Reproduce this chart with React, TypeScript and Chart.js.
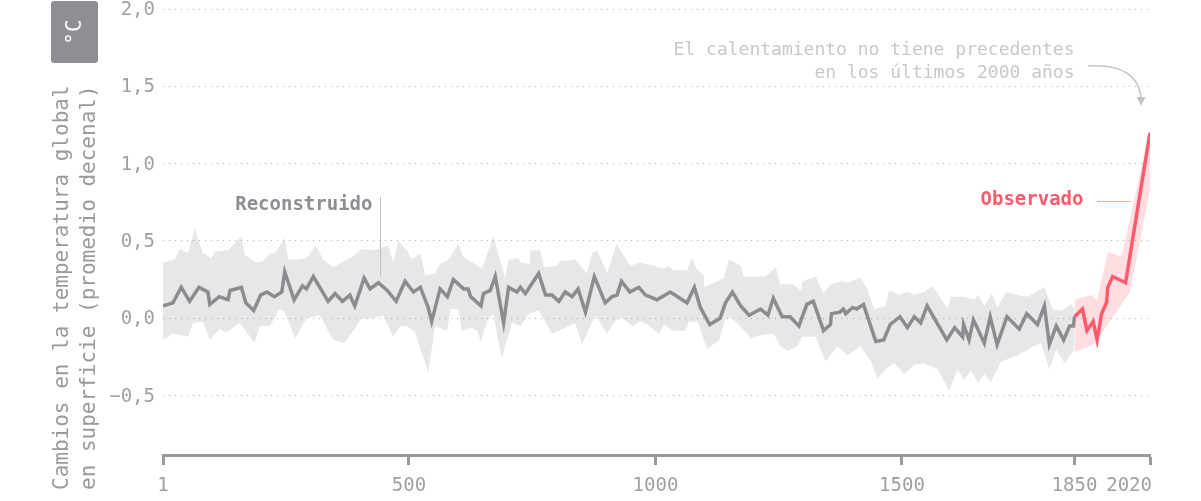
import React, { useEffect, useRef } from 'react';
import { Chart, registerables, LinearScale } from 'chart.js';

Chart.register(...registerables);

// ---------- data ----------
const xTickValues = [1, 500, 1000, 1500, 1850, 2020];
const yTickValues = [-0.5, 0, 0.5, 1, 1.5, 2];

const recYears = [1, 21, 38, 55, 74, 92, 96, 115, 133, 137, 160, 169, 185, 199, 212, 227, 242, 248, 267, 284, 292, 306, 336, 350, 365, 380, 390, 409, 421, 438, 456, 474, 492, 509, 523, 539, 546, 563, 578, 590, 611, 620, 625, 646, 651, 665, 675, 692, 702, 719, 726, 736, 763, 777, 790, 804, 817, 831, 843, 858, 876, 898, 912, 922, 931, 948, 966, 980, 1003, 1030, 1064, 1079, 1091, 1110, 1131, 1142, 1156, 1173, 1190, 1213, 1228, 1239, 1257, 1273, 1291, 1307, 1320, 1341, 1355, 1357, 1374, 1381, 1386, 1400, 1408, 1422, 1447, 1463, 1476, 1496, 1511, 1525, 1538, 1551, 1591, 1607, 1623, 1625, 1636, 1645, 1667, 1679, 1693, 1713, 1738, 1753, 1775, 1789, 1799, 1813, 1828, 1840, 1848, 1850];
const recValues = [0.08, 0.10, 0.20, 0.11, 0.20, 0.17, 0.09, 0.14, 0.12, 0.18, 0.20, 0.10, 0.05, 0.15, 0.17, 0.14, 0.17, 0.30, 0.12, 0.21, 0.19, 0.27, 0.11, 0.16, 0.11, 0.15, 0.08, 0.26, 0.19, 0.23, 0.18, 0.11, 0.24, 0.17, 0.20, 0.07, -0.02, 0.19, 0.14, 0.25, 0.19, 0.19, 0.14, 0.08, 0.16, 0.18, 0.27, -0.03, 0.20, 0.17, 0.20, 0.16, 0.29, 0.15, 0.15, 0.11, 0.17, 0.14, 0.19, 0.04, 0.27, 0.10, 0.14, 0.15, 0.24, 0.17, 0.20, 0.15, 0.12, 0.17, 0.10, 0.20, 0.07, -0.04, 0.00, 0.10, 0.17, 0.08, 0.02, 0.06, 0.02, 0.13, 0.01, 0.01, -0.05, 0.09, 0.11, -0.08, -0.04, 0.03, 0.04, 0.06, 0.03, 0.07, 0.06, 0.09, -0.15, -0.14, -0.04, 0.01, -0.06, 0.01, -0.03, 0.08, -0.14, -0.06, -0.12, -0.04, -0.14, -0.01, -0.16, 0.01, -0.17, 0.01, -0.07, 0.03, -0.04, 0.08, -0.17, -0.05, -0.14, -0.05, -0.05, 0.01];

const recUpperYears = [1, 25, 35, 52, 65, 82, 99, 106, 133, 160, 167, 191, 204, 218, 228, 248, 255, 275, 292, 311, 326, 346, 363, 387, 404, 428, 458, 468, 478, 496, 506, 523, 533, 553, 562, 580, 600, 610, 648, 671, 695, 702, 722, 726, 745, 746, 766, 774, 800, 810, 817, 837, 861, 871, 882, 902, 921, 949, 969, 997, 1017, 1027, 1037, 1064, 1074, 1085, 1098, 1099, 1139, 1149, 1173, 1179, 1213, 1223, 1244, 1253, 1278, 1295, 1298, 1325, 1341, 1355, 1379, 1389, 1416, 1430, 1443, 1467, 1474, 1494, 1511, 1525, 1545, 1562, 1593, 1599, 1626, 1647, 1654, 1667, 1682, 1694, 1711, 1735, 1755, 1789, 1806, 1823, 1843, 1850];
const recUpperValues = [0.36, 0.38, 0.45, 0.42, 0.58, 0.42, 0.39, 0.43, 0.44, 0.53, 0.41, 0.36, 0.37, 0.42, 0.42, 0.52, 0.38, 0.38, 0.39, 0.47, 0.38, 0.33, 0.36, 0.40, 0.45, 0.44, 0.47, 0.36, 0.50, 0.44, 0.38, 0.42, 0.28, 0.29, 0.35, 0.38, 0.48, 0.40, 0.32, 0.53, 0.26, 0.38, 0.39, 0.36, 0.35, 0.44, 0.44, 0.33, 0.34, 0.38, 0.37, 0.38, 0.29, 0.42, 0.44, 0.29, 0.48, 0.34, 0.36, 0.34, 0.32, 0.34, 0.31, 0.31, 0.39, 0.31, 0.28, 0.20, 0.26, 0.38, 0.34, 0.27, 0.27, 0.27, 0.33, 0.22, 0.22, 0.18, 0.24, 0.27, 0.16, 0.22, 0.24, 0.23, 0.26, 0.19, 0.06, 0.08, 0.18, 0.15, 0.17, 0.15, 0.17, 0.21, 0.06, 0.14, 0.14, 0.12, 0.15, 0.08, 0.16, 0.07, 0.17, 0.15, 0.14, 0.20, 0.06, 0.05, 0.09, 0.06];

const recLowerYears = [1, 21, 52, 62, 82, 96, 115, 130, 157, 187, 197, 218, 237, 248, 269, 292, 319, 346, 370, 404, 428, 448, 468, 482, 496, 512, 539, 553, 577, 585, 600, 607, 628, 638, 646, 658, 671, 688, 709, 726, 743, 763, 790, 804, 837, 851, 878, 902, 915, 929, 953, 969, 983, 1007, 1017, 1037, 1061, 1068, 1085, 1105, 1129, 1142, 1156, 1186, 1193, 1213, 1240, 1254, 1268, 1288, 1298, 1325, 1345, 1369, 1389, 1416, 1437, 1450, 1467, 1484, 1504, 1525, 1545, 1572, 1596, 1613, 1626, 1640, 1654, 1667, 1681, 1701, 1735, 1762, 1782, 1799, 1813, 1830, 1850];
const recLowerValues = [-0.14, -0.10, -0.12, -0.03, -0.02, -0.14, -0.07, -0.09, -0.03, -0.16, -0.05, -0.05, 0.06, 0.04, -0.13, 0.00, 0.02, -0.14, -0.16, 0.00, 0.00, 0.02, -0.12, -0.05, -0.05, -0.09, -0.35, -0.05, -0.08, 0.06, 0.06, -0.08, -0.06, -0.08, -0.15, -0.02, 0.03, -0.26, -0.03, -0.05, 0.03, 0.05, -0.10, -0.08, -0.03, -0.17, 0.02, -0.10, -0.03, 0.01, -0.05, -0.02, -0.04, -0.10, -0.04, -0.08, -0.08, -0.02, -0.02, -0.20, -0.14, 0.00, 0.00, -0.10, -0.13, -0.11, -0.10, -0.18, -0.21, -0.18, -0.12, -0.12, -0.28, -0.18, -0.24, -0.18, -0.28, -0.39, -0.33, -0.29, -0.36, -0.30, -0.29, -0.33, -0.47, -0.33, -0.40, -0.34, -0.42, -0.36, -0.41, -0.28, -0.24, -0.19, -0.16, -0.33, -0.20, -0.29, -0.20];

const obsYears = [1850, 1868, 1878, 1892, 1901, 1911, 1922, 1925, 1936, 1965, 2020];
const obsValues = [0.01, 0.06, -0.08, -0.02, -0.14, 0.03, 0.10, 0.20, 0.27, 0.23, 1.20];
const obsUpperYears = [1850, 1888, 1901, 1925, 1956, 2020];
const obsUpperValues = [0.12, 0.15, 0.12, 0.43, 0.40, 1.22];
const obsLowerYears = [1850, 1885, 1898, 1922, 1975, 2020];
const obsLowerValues = [-0.22, -0.18, -0.16, -0.05, 0.17, 0.83];

// ---------- style ----------
const FONT = "'DejaVu Sans Mono', monospace";
const AXIS_COLOR = '#9a9a9a';
const TICK_COLOR = '#a0a0a0';
const GRAY_LINE = '#8f8f94';
const GRAY_BAND = 'rgba(120,120,125,0.18)';
const RED_LINE = '#ff5a6c';
const RED_BAND = 'rgba(255,92,108,0.2)';

// x axis: years 1-1850 use a slightly wider share than 1850-2020
const BREAK_YEAR = 1850;
const BREAK_FRACTION = 0.9235;
const X_MIN = 1;
const X_MAX = 2020;

class BrokenLinearScale extends LinearScale {
  static id = 'brokenLinear';
  static defaults = LinearScale.defaults;
  getPixelForValue(value: any) {
    if (value === null || value === undefined || isNaN(value)) return NaN;
    let d;
    if (value <= BREAK_YEAR) d = ((value - X_MIN) / (BREAK_YEAR - X_MIN)) * BREAK_FRACTION;
    else d = BREAK_FRACTION + ((value - BREAK_YEAR) / (X_MAX - BREAK_YEAR)) * (1 - BREAK_FRACTION);
    return this.getPixelForDecimal(d);
  }
  getValueForPixel(pixel: number) {
    const d = this.getDecimalForPixel(pixel);
    if (d <= BREAK_FRACTION) return X_MIN + (d / BREAK_FRACTION) * (BREAK_YEAR - X_MIN);
    return BREAK_YEAR + ((d - BREAK_FRACTION) / (1 - BREAK_FRACTION)) * (X_MAX - BREAK_YEAR);
  }
}
Chart.register(BrokenLinearScale as any);

const pts = (xs: number[], ys: number[]) => xs.map((x, i) => ({ x, y: ys[i] }));
const fmtY = (v: number) => {
  const s = Math.abs(v).toFixed(1).replace('.', ',');
  return v < 0 ? '\u2212' + s : s;
};

const annotationPlugin = {
  id: 'annotations',
  afterDraw(chart: any) {
    const { ctx, scales } = chart;
    const xs = scales.x;
    ctx.save();

    // x tick labels
    ctx.font = `19px ${FONT}`;
    ctx.fillStyle = TICK_COLOR;
    ctx.textBaseline = 'middle';
    xs.ticks.forEach((t: any, i: number) => {
      const px = xs.getPixelForValue(t.value);
      const last = i === xs.ticks.length - 1;
      ctx.textAlign = last ? 'right' : 'center';
      ctx.fillText(String(t.value), last ? px + 2 : px, 486.5);
    });

    // unit badge
    ctx.fillStyle = '#8e8e93';
    ctx.beginPath();
    if (ctx.roundRect) ctx.roundRect(51, 1, 47, 62, 3);
    else ctx.rect(51, 1, 47, 62);
    ctx.fill();
    ctx.save();
    ctx.translate(76, 32);
    ctx.rotate(-Math.PI / 2);
    ctx.fillStyle = '#ffffff';
    ctx.font = `21px ${FONT}`;
    ctx.textAlign = 'center';
    ctx.textBaseline = 'middle';
    ctx.fillText('°C', 0, 0);
    ctx.restore();

    // y axis title
    ctx.save();
    ctx.translate(68, 490);
    ctx.rotate(-Math.PI / 2);
    ctx.fillStyle = '#9a9a9a';
    ctx.font = `21px ${FONT}`;
    ctx.textAlign = 'left';
    ctx.textBaseline = 'alphabetic';
    ctx.fillText('Cambios en la temperatura global', 0, 0);
    ctx.fillText('en superficie (promedio decenal)', 0, 26.5);
    ctx.restore();

    // Reconstruido label
    ctx.font = `bold 19px ${FONT}`;
    ctx.fillStyle = '#8e8e93';
    ctx.textAlign = 'right';
    ctx.textBaseline = 'middle';
    ctx.fillText('Reconstruido', 372.5, 205);
    ctx.strokeStyle = '#c4c4c4';
    ctx.lineWidth = 1;
    ctx.beginPath();
    ctx.moveTo(380.5, 197);
    ctx.lineTo(380.5, 277);
    ctx.stroke();

    // Observado label
    ctx.fillStyle = RED_LINE;
    ctx.fillText('Observado', 1083.5, 200);
    ctx.strokeStyle = '#f7a6ae';
    ctx.beginPath();
    ctx.moveTo(1097, 201.5);
    ctx.lineTo(1131, 201.5);
    ctx.stroke();

    // annotation text
    ctx.font = `18px ${FONT}`;
    ctx.fillStyle = '#c8c8c8';
    ctx.textBaseline = 'alphabetic';
    ctx.fillText('El calentamiento no tiene precedentes', 1074.5, 54.5);
    ctx.fillText('en los últimos 2000 años', 1074.5, 77.5);

    // curved arrow
    ctx.strokeStyle = '#c4c4c4';
    ctx.lineWidth = 1.5;
    ctx.beginPath();
    ctx.moveTo(1088, 66);
    ctx.bezierCurveTo(1122, 64, 1139, 76, 1141, 98);
    ctx.stroke();
    ctx.fillStyle = '#c4c4c4';
    ctx.beginPath();
    ctx.moveTo(1136.5, 97);
    ctx.lineTo(1145.5, 97);
    ctx.lineTo(1141, 106);
    ctx.closePath();
    ctx.fill();

    ctx.restore();
  },
};

export default function App() {
  const ref = useRef<HTMLCanvasElement>(null);
  useEffect(() => {
    const canvas = ref.current;
    if (!canvas) return;
    Chart.defaults.font.family = FONT;
    const chart = new Chart(canvas, {
      type: 'line',
      data: {
        datasets: [
          {
            label: 'recUpper',
            data: pts(recUpperYears, recUpperValues),
            borderWidth: 0,
            borderColor: 'transparent',
            pointRadius: 0,
            fill: '+1',
            backgroundColor: GRAY_BAND,
          },
          {
            label: 'recLower',
            data: pts(recLowerYears, recLowerValues),
            borderWidth: 0,
            borderColor: 'transparent',
            pointRadius: 0,
            fill: false,
          },
          {
            label: 'obsUpper',
            data: pts(obsUpperYears, obsUpperValues),
            borderWidth: 0,
            borderColor: 'transparent',
            pointRadius: 0,
            fill: '+1',
            backgroundColor: RED_BAND,
          },
          {
            label: 'obsLower',
            data: pts(obsLowerYears, obsLowerValues),
            borderWidth: 0,
            borderColor: 'transparent',
            pointRadius: 0,
            fill: false,
          },
          {
            label: 'Reconstruido',
            data: pts(recYears, recValues),
            borderColor: GRAY_LINE,
            borderWidth: 3.5,
            pointRadius: 0,
            fill: false,
          },
          {
            label: 'Observado',
            data: pts(obsYears, obsValues),
            borderColor: RED_LINE,
            borderWidth: 3.5,
            pointRadius: 0,
            fill: false,
          },
        ],
      },
      options: {
        animation: false,
        responsive: false,
        events: [],
        layout: { padding: { top: 9, right: 51, left: 0, bottom: 0 } },
        plugins: {
          legend: { display: false },
          tooltip: { enabled: false },
        },
        scales: {
          x: {
            type: 'brokenLinear' as any,
            min: X_MIN,
            max: X_MAX,
            afterBuildTicks: (s: any) => {
              s.ticks = xTickValues.map((v) => ({ value: v }));
            },
            afterFit: (s: any) => {
              s.height = 46;
              s.paddingLeft = 0;
              s.paddingRight = 0;
            },
            ticks: { display: false },
            grid: {
              drawOnChartArea: false,
              drawTicks: true,
              tickLength: 10,
              tickWidth: 3,
              tickColor: AXIS_COLOR,
            },
            border: { display: true, color: AXIS_COLOR, width: 3 },
          },
          y: {
            type: 'linear',
            min: -0.884,
            max: 2.0,
            afterBuildTicks: (s: any) => {
              s.ticks = yTickValues.map((v) => ({ value: v }));
            },
            afterFit: (s: any) => {
              s.width = 163;
              s.paddingTop = 0;
              s.paddingBottom = 0;
            },
            ticks: {
              callback: (v: any) => fmtY(Number(v)),
              color: TICK_COLOR,
              font: { family: FONT, size: 19, lineHeight: 1 },
              padding: 8,
              labelOffset: 1,
            },
            grid: { color: '#b0b0b0', lineWidth: 1, drawTicks: false },
            border: { display: false, dash: [1, 5] },
          },
        },
      } as any,
      plugins: [annotationPlugin],
    });
    return () => chart.destroy();
  }, []);
  return (
    <div style={{ position: 'absolute', left: 0, top: 0, width: 1201, height: 501, background: '#fff' }}>
      <canvas ref={ref} width={1201} height={501} style={{ display: 'block', width: 1201, height: 501 }} />
    </div>
  );
}
